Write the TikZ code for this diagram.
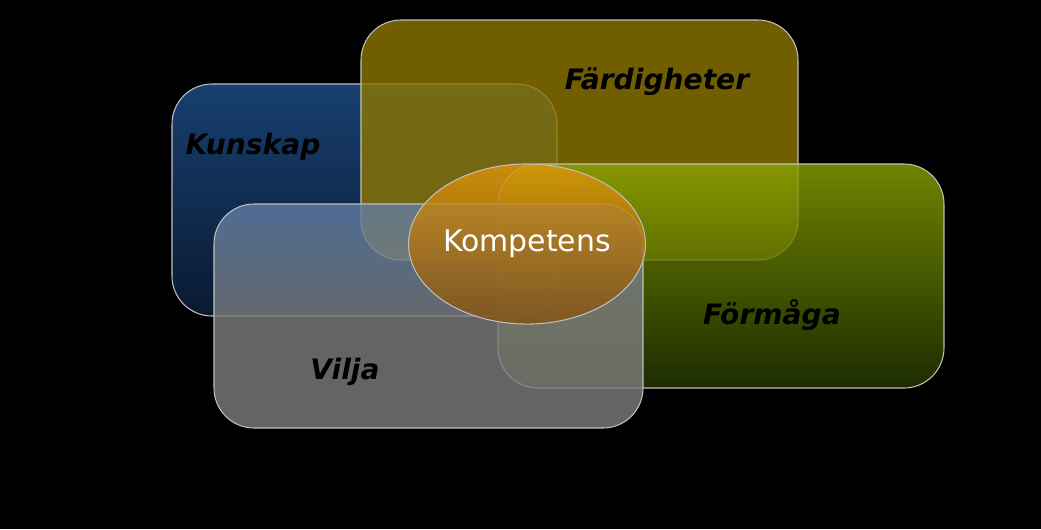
\documentclass[tikz,border=0pt]{standalone}
\usepackage{fontspec}
\setmainfont{DejaVu Sans}
\usetikzlibrary{positioning,shapes.geometric}
\definecolor{kblue}{RGB}{30,80,140}
\definecolor{kbluedark}{RGB}{12,32,62}
\definecolor{folive}{RGB}{140,118,0}
\definecolor{fgreen}{RGB}{140,165,0}
\definecolor{fgreendark}{RGB}{35,55,0}
\definecolor{vgray}{RGB}{125,125,125}
\definecolor{vblue}{RGB}{95,125,165}
\definecolor{korange}{RGB}{225,150,10}
\definecolor{korangedark}{RGB}{130,80,20}

\begin{document}
\begin{tikzpicture}[x=0.01cm,y=-0.01cm,
    box/.style={draw=white!75!black,line width=0.3pt,rounded corners=0.4cm,
                fill opacity=0.8},
    word/.style={font=\bfseries\itshape\fontsize{8}{10}\selectfont,text=black}]
  \fill[black] (0,0) rectangle (1041,529);
  \useasboundingbox (0,0) rectangle (1041,529);

  \path[box,top color=kblue,bottom color=kbluedark] (172,84) rectangle (557,316);
  \node[word] (kun) at (253,147) {Kunskap};

  \path[box,fill=folive] (361,20) rectangle (798,260);
  \node[word] (far) at (657,82) {Färdigheter};

  \path[box,top color=fgreen,bottom color=fgreendark] (498,164) rectangle (944,388);
  \node[word] (for) at (772,315) {Förmåga};

  \path[box,top color=vblue,bottom color=vgray,middle color=vgray] (214,204) rectangle (643,428);
  \node[word] (vil) at (345,372) {Vilja};

  \node[ellipse,draw=white!75!black,line width=0.3pt,
        minimum width=2.3cm,minimum height=1.6cm,inner sep=0pt,
        top color=korange,bottom color=korangedark,fill opacity=0.8,
        text opacity=1,text=white,font=\fontsize{8.5}{10}\selectfont] (kom) at (527,244) {Kompetens};
\end{tikzpicture}
\end{document}
